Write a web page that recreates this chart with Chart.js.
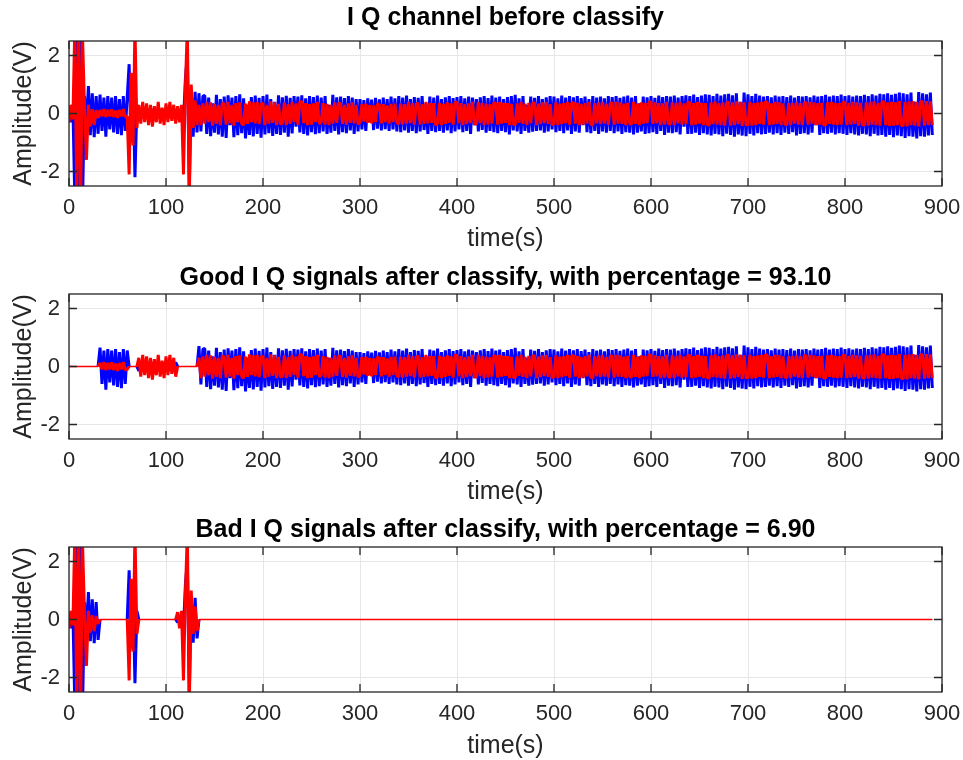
<!DOCTYPE html>
<html>
<head>
<meta charset="utf-8">
<script src="https://cdn.jsdelivr.net/npm/chart.js@4.4.1/dist/chart.umd.min.js"></script>
<style>
  html, body { margin: 0; padding: 0; background: #fff; }
  #wrap { position: relative; width: 963px; height: 760px; background: #fff; }
  canvas { position: absolute; left: 0; }
</style>
</head>
<body>
<div id="wrap">
  <canvas id="c1" width="963" height="253" style="top:0"></canvas>
  <canvas id="c2" width="963" height="253" style="top:253px"></canvas>
  <canvas id="c3" width="963" height="254" style="top:506px"></canvas>
</div>
<script>
"use strict";

// seconds between two samples of the record
const SAMPLE_STEP = 2;

const xTicks = [0, 100, 200, 300, 400, 500, 600, 700, 800, 900];
const yTicks = [-2, 0, 2];

// I channel (V), one row = 20 s
const iChannel = [
    .2, -.3, .3, -3, 3, -3, 3, -3, .6, -.5,
    .95, -.75, .7, -.82, .6, -.7, .65, -.6, .55, -.8,
    .6, -.55, .55, -.65, .6, -.7, .5, -.75, .6, -.6,
    .55, 1.7, -1, .8, -2.2, .3, -.15, .12, -.1, .14,
    -.12, .1, -.14, .15, -.1, .12, -.13, .1, -.12, .14,
    -.1, .12, -.15, .1, -.12, .14, -.1, .12, -.2, -.3,
    1.2, 2, -2.6, .8, -.8, .75, -.65, .7, -.62, .6,
    .62, -.7, .55, -.78, .35, -.66, .64, -.72, .5, -.8,
    .58, -.84, .63, -.4, .55, -.82, .6, -.75, .66, -.68,
    .52, -.86, .3, -.74, .57, -.79, .62, -.7, .54, -.83,
    .6, -.72, .65, -.68, .5, -.77, .4, -.7, .63, -.74,
    .56, -.66, .61, -.8, .54, -.69, .6, -.45, .58, -.65,
    .63, -.7, .52, -.76, .6, -.64, .57, -.71, .62, -.68,
    .55, -.62, .6, -.7, .3, -.66, .64, -.6, .56, -.72,
    .58, -.64, .53, -.68, .6, -.58, .55, -.7, .5, -.62,
    .5, -.55, .46, -.6, .52, -.3, .48, -.57, .54, -.52,
    .49, -.58, .55, -.54, .5, -.6, .58, -.55, .52, -.62,
    .6, -.64, .55, -.58, .62, -.66, .5, -.6, .57, -.68,
    .54, -.62, .6, -.57, .35, -.7, .58, -.6, .55, -.64,
    .62, -.6, .5, -.66, .56, -.58, .6, -.68, .53, -.62,
    .57, -.55, .6, -.64, .52, -.6, .58, -.7, .55, -.4,
    .5, -.62, .56, -.57, .6, -.66, .53, -.6, .62, -.64,
    .55, -.68, .58, -.6, .5, -.64, .57, -.72, .6, -.58,
    .64, -.62, .52, -.7, .6, -.6, .3, -.66, .58, -.63,
    .54, -.6, .6, -.58, .5, -.66, .56, -.62, .6, -.55,
    .58, -.64, .52, -.6, .62, -.68, .55, -.58, .6, -.7,
    .56, -.62, .6, -.66, .53, -.4, .58, -.64, .5, -.68,
    .6, -.6, .55, -.7, .58, -.62, .52, -.66, .6, -.6,
    .57, -.68, .6, -.62, .54, -.7, .58, -.64, .62, -.66,
    .55, -.72, .6, -.66, .35, -.62, .58, -.7, .56, -.68,
    .6, -.64, .54, -.7, .62, -.6, .57, -.74, .6, -.66,
    .58, -.68, .62, -.64, .55, -.72, .6, -.45, .63, -.7,
    .6, -.7, .65, -.66, .57, -.74, .62, -.68, .66, -.72,
    .64, -.76, .6, -.7, .68, -.72, .62, -.78, .66, -.7,
    .68, -.74, .63, -.8, .7, -.72, .4, -.76, .72, -.78,
    .66, -.7, .6, -.76, .68, -.68, .62, -.72, .58, -.7,
    .6, -.66, .56, -.72, .62, -.68, .58, -.74, .6, -.66,
    .57, -.7, .62, -.64, .55, -.76, .6, -.7, .58, -.68,
    .6, -.72, .56, -.66, .62, -.4, .58, -.74, .6, -.68,
    .64, -.7, .58, -.66, .62, -.72, .6, -.68, .65, -.7,
    .6, -.74, .63, -.68, .58, -.72, .62, -.76, .6, -.7,
    .64, -.72, .6, -.78, .66, -.7, .62, -.76, .68, -.74,
    .66, -.8, .7, -.74, .64, -.82, .68, -.76, .72, -.78,
    .7, -.84, .66, -.78, .72, -.8, .4, -.86, .74, -.78,
    .7, -.8, .66, -.76, .72, -.74
];

// Q channel (V), same sampling
const qChannel = [
    -.3, .3, -.2, 3, -3, 3, -3, 2.6, .2, -1.6,
    .3, -.45, .15, -.4, .12, -.15, .12, -.1, .15, -.12,
    .12, -.1, .14, -.12, .1, -.15, .12, -.1, .15, -.12,
    -.1, -2.1, 1.4, -1.1, 3, -.5, .3, -.35, .4, -.3,
    .35, -.4, .3, -.45, .25, -.3, .4, -.35, .2, -.4,
    .35, -.3, .4, -.25, .3, -.35, .25, -.3, .3, -2.1,
    .9, 3, -3, 1, -.5, .45, -.4, .3, -.4, .35,
    -.35, .4, -.3, .38, -.42, .33, -.36, .3, -.4, .37,
    .32, -.38, .4, -.34, .3, -.42, .36, -.3, .38, -.35,
    -.4, .34, -.36, .42, -.3, .38, -.34, .4, -.37, .32,
    .36, -.4, .3, -.35, .42, -.32, .38, -.4, .33, -.36,
    -.34, .38, -.4, .32, -.36, .4, -.3, .35, -.38, .42,
    .4, -.33, .36, -.4, .32, -.38, .35, -.3, .4, -.36,
    -.3, .36, -.38, .33, -.4, .3, -.35, .38, -.32, .36,
    .34, -.36, .3, -.38, .35, -.32, .38, -.34, .3, -.37,
    -.3, .32, -.28, .34, -.32, .3, -.34, .28, -.3, .33,
    .3, -.34, .32, -.3, .28, -.35, .33, -.3, .34, -.32,
    -.36, .34, -.38, .32, -.35, .4, -.33, .36, -.38, .34,
    .35, -.38, .32, -.36, .4, -.34, .37, -.32, .36, -.4,
    -.34, .37, -.4, .33, -.36, .38, -.32, .35, -.38, .4,
    .38, -.34, .36, -.4, .32, -.37, .35, -.33, .4, -.36,
    -.36, .4, -.33, .37, -.4, .34, -.38, .32, -.35, .38,
    .34, -.38, .4, -.35, .37, -.32, .36, -.4, .33, -.37,
    -.38, .35, -.32, .4, -.36, .34, -.4, .37, -.34, .36,
    .36, -.4, .34, -.37, .38, -.33, .4, -.36, .32, -.38,
    -.35, .38, -.4, .34, -.37, .36, -.33, .4, -.38, .35,
    .38, -.35, .37, -.4, .33, -.38, .36, -.34, .4, -.37,
    -.4, .36, -.34, .38, -.37, .4, -.35, .33, -.38, .36,
    .36, -.38, .4, -.35, .38, -.36, .34, -.4, .37, -.35,
    -.37, .4, -.36, .34, -.4, .38, -.35, .37, -.33, .4,
    .4, -.36, .38, -.34, .36, -.4, .35, -.38, .4, -.36,
    -.36, .38, -.4, .37, -.34, .4, -.38, .35, -.37, .39,
    .38, -.4, .36, -.38, .4, -.35, .37, -.4, .36, -.38,
    -.4, .38, -.37, .42, -.38, .36, -.4, .38, -.42, .37,
    .4, -.42, .38, -.4, .42, -.37, .4, -.43, .38, -.4,
    -.38, .4, -.42, .36, -.4, .38, -.36, .4, -.38, .42,
    .37, -.4, .35, -.38, .4, -.36, .38, -.4, .35, -.37,
    -.38, .36, -.4, .37, -.35, .4, -.38, .36, -.4, .38,
    .36, -.38, .4, -.35, .38, -.4, .36, -.38, .37, -.4,
    -.4, .38, -.36, .4, -.38, .37, -.4, .36, -.38, .4,
    .38, -.4, .37, -.38, .4, -.36, .38, -.42, .37, -.39,
    -.4, .38, -.42, .4, -.38, .42, -.4, .37, -.42, .4,
    .42, -.4, .38, -.43, .4, -.42, .38, -.4, .43, -.41,
    -.42, .4, -.44, .42, -.4, .43, -.42, .4, -.44, .42,
    .4, -.42, .43, -.4, .42, -.4
];

// classification windows (s)
const goodRanges = [[32, 60], [72, 110], [134, 890]];
const badRanges = [[0, 30], [62, 70], [112, 132]];

const titles = [
    'I Q channel before classify',
    'Good I Q signals after classify, with percentage = 93.10',
    'Bad I Q signals after classify, with percentage = 6.90'
];

const FONT = "'Liberation Sans', Arial, Helvetica, sans-serif";
const AXIS_COLOR = '#262626';
const GRID_COLOR = '#e6e6e6';
const TICK_LEN = 8;
const LINE_W = 3;

const time = iChannel.map((v, k) => k * SAMPLE_STEP);

function keep(series, ranges) {
    return series.map((v, k) => {
        const t = time[k];
        return ranges.some(r => t >= r[0] && t <= r[1]) ? v : 0;
    });
}

function toPoints(series) {
    return series.map((v, k) => ({x: time[k], y: v}));
}

// thin line where a classified-out stretch sits at zero
function segWidth(zeroWidth) {
    return c => (c.p0.parsed.y === 0 && c.p1.parsed.y === 0) ? zeroWidth : LINE_W;
}

// MATLAB style box with inward ticks
const matlabBox = {
    id: 'matlabBox',
    afterDatasetsDraw(chart) {
        const {ctx, chartArea: a} = chart;
        const x = chart.scales.x;
        const y = chart.scales.y;

        ctx.save();
        ctx.strokeStyle = AXIS_COLOR;
        ctx.lineWidth = 1.3;
        ctx.beginPath();
        x.ticks.forEach(t => {
            const px = x.getPixelForValue(t.value);
            ctx.moveTo(px, a.bottom);
            ctx.lineTo(px, a.bottom - TICK_LEN);
            ctx.moveTo(px, a.top);
            ctx.lineTo(px, a.top + TICK_LEN);
        });
        y.ticks.forEach(t => {
            const py = y.getPixelForValue(t.value);
            ctx.moveTo(a.left, py);
            ctx.lineTo(a.left + TICK_LEN, py);
            ctx.moveTo(a.right, py);
            ctx.lineTo(a.right - TICK_LEN, py);
        });
        ctx.stroke();
        ctx.strokeRect(a.left, a.top, a.right - a.left, a.bottom - a.top);
        ctx.restore();
    }
};

function makeChart(id, title, titlePad, iSeries, qSeries) {
    const canvas = document.getElementById(id);
    const xAxisHeight = canvas.height - 186;

    return new Chart(canvas, {
        type: 'line',
        data: {
            datasets: [{
                label: 'I',
                data: toPoints(iSeries),
                borderColor: '#0000ff',
                borderWidth: LINE_W,
                borderJoinStyle: 'bevel',
                segment: {borderWidth: segWidth(0.8)},
                pointRadius: 0,
                tension: 0,
                order: 2
            }, {
                label: 'Q',
                data: toPoints(qSeries),
                borderColor: '#ff0000',
                borderWidth: LINE_W,
                borderJoinStyle: 'bevel',
                segment: {borderWidth: segWidth(1.7)},
                pointRadius: 0,
                tension: 0,
                order: 1
            }]
        },
        options: {
            responsive: false,
            animation: false,
            events: [],
            layout: {
                padding: {left: 0, right: 21, top: 0, bottom: 0}
            },
            plugins: {
                legend: {display: false},
                tooltip: {enabled: false},
                title: {
                    display: true,
                    fullSize: false,
                    text: title,
                    color: '#000',
                    font: {family: FONT, size: 25, weight: 'bold', lineHeight: 1},
                    padding: titlePad
                }
            },
            scales: {
                x: {
                    type: 'linear',
                    min: 0,
                    max: 900,
                    afterBuildTicks: s => {
                        s.ticks = xTicks.map(v => ({value: v}));
                    },
                    afterFit: s => {
                        s.height = xAxisHeight;
                    },
                    // invisible outer ticks only push the labels down
                    grid: {color: GRID_COLOR, drawTicks: true, tickLength: 11, tickColor: 'rgba(0,0,0,0)'},
                    border: {display: false},
                    ticks: {
                        padding: 0,
                        color: AXIS_COLOR,
                        maxRotation: 0,
                        autoSkip: false,
                        font: {family: FONT, size: 22, lineHeight: 1}
                    },
                    title: {
                        display: true,
                        text: 'time(s)',
                        color: AXIS_COLOR,
                        font: {family: FONT, size: 25, lineHeight: 1},
                        padding: {top: 0, bottom: 1}
                    }
                },
                y: {
                    type: 'linear',
                    min: -2.5,
                    max: 2.5,
                    afterBuildTicks: s => {
                        s.ticks = yTicks.map(v => ({value: v}));
                    },
                    afterFit: s => {
                        s.width = 69;
                    },
                    grid: {color: GRID_COLOR, drawTicks: false},
                    border: {display: false},
                    ticks: {
                        padding: 9,
                        color: AXIS_COLOR,
                        font: {family: FONT, size: 22, lineHeight: 1}
                    },
                    title: {
                        display: true,
                        text: 'Amplitude(V)',
                        color: AXIS_COLOR,
                        font: {family: FONT, size: 25, lineHeight: 1},
                        padding: {top: 12, bottom: 0}
                    }
                }
            }
        },
        plugins: [matlabBox]
    });
}

makeChart('c1', titles[0], {top: 6, bottom: 10}, iChannel, qChannel);
makeChart('c2', titles[1], {top: 13, bottom: 3}, keep(iChannel, goodRanges), keep(qChannel, goodRanges));
makeChart('c3', titles[2], {top: 12, bottom: 4}, keep(iChannel, badRanges), keep(qChannel, badRanges));
</script>
</body>
</html>
